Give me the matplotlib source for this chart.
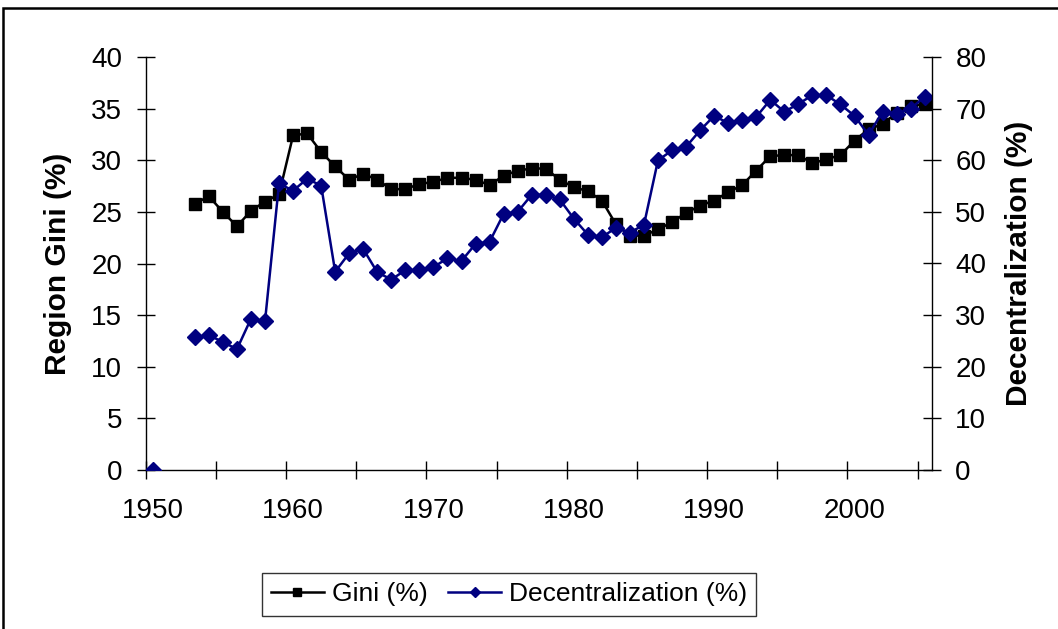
import matplotlib.pyplot as plt
from matplotlib.patches import Rectangle
import numpy as np

plt.rcParams['font.family'] = ['Liberation Sans', 'DejaVu Sans']

years = np.arange(1950, 2006)

# Gini (%) by year, starts 1953
gini = [np.nan, np.nan, np.nan,
        25.8, 26.5, 25.0, 23.6, 25.1, 26.0, 26.7,
        32.4, 32.6, 30.8, 29.4, 28.1, 28.7, 28.1, 27.2, 27.2, 27.7,
        27.9, 28.3, 28.3, 28.1, 27.6, 28.5, 29.0, 29.2, 29.2, 28.1,
        27.4, 27.0, 26.1, 23.8, 22.7, 22.7, 23.3, 24.0, 24.9, 25.6,
        26.1, 26.9, 27.6, 29.0, 30.4, 30.5, 30.5, 29.7, 30.1, 30.5,
        31.9, 33.0, 33.5, 34.6, 35.3, 35.4]

# Decentralization (%) by year, 1950 then 1953 onwards
decent = [0.0, np.nan, np.nan,
          25.7, 26.1, 24.8, 23.4, 29.3, 28.8, 55.5,
          54.1, 56.4, 55.1, 38.4, 42.0, 42.8, 38.3, 36.9, 38.7, 38.7,
          39.3, 41.0, 40.5, 43.8, 44.2, 49.6, 50.0, 53.3, 53.3, 52.4,
          48.7, 45.6, 45.1, 46.9, 46.0, 47.5, 60.0, 61.9, 62.6, 65.8,
          68.6, 67.2, 67.7, 68.4, 71.7, 69.4, 70.9, 72.6, 72.6, 70.8,
          68.6, 64.9, 69.4, 69.0, 70.0, 72.3]

label_years = [1950, 1960, 1970, 1980, 1990, 2000]

W, H = 1058, 629
fig = plt.figure(figsize=(W / 100, H / 100), dpi=100)
ax = fig.add_axes([145.7 / W, 1 - 470 / H, 786 / W, 413 / H])
ax2 = ax.twinx()

l1, = ax.plot(years, gini, color='black', lw=1.8, marker='s', ms=8.5,
              label='Gini (%)')
l2, = ax2.plot(years, decent, color='#000080', lw=1.8, marker='D', ms=8.5,
               label='Decentralization (%)')

ax.set_xlim(1949.5, 2005.5)
ax.set_ylim(0, 40)
ax2.set_ylim(0, 80)
ax.set_yticks(np.arange(0, 41, 5))
ax2.set_yticks(np.arange(0, 81, 10))

ax.set_xticks(np.arange(1949.5, 2005, 5))
ax.set_xticklabels([])
ax.set_xticks(label_years, minor=True)
ax.set_xticklabels([str(y) for y in label_years], minor=True)
ax.tick_params(axis='x', which='minor', length=0, pad=20, labelsize=20)
ax.tick_params(axis='x', which='major', direction='inout', length=13, width=1)
ax.tick_params(axis='y', direction='inout', length=13, width=1, pad=10.5,
               labelsize=20)
ax2.tick_params(axis='y', direction='inout', length=13, width=1, pad=10.5,
                labelsize=20)

for a in (ax, ax2):
    a.spines['top'].set_visible(False)
    for s in a.spines.values():
        s.set_linewidth(1.0)
ax.spines['right'].set_visible(False)
ax2.spines['left'].set_visible(False)
ax2.spines['bottom'].set_visible(False)

ax.set_ylabel('Region Gini (%)', fontsize=21.5, fontweight='bold')
ax2.set_ylabel('Decentralization (%)', fontsize=21.5, fontweight='bold')
ax.yaxis.set_label_coords(-0.094, 0.5)
ax2.yaxis.set_label_coords(1.093, 0.5)

leg = fig.legend([l1, l2], ['Gini (%)', 'Decentralization (%)'],
                 loc='center', bbox_to_anchor=(509 / W, 1 - 594.5 / H),
                 ncol=2, fontsize=19, frameon=True, fancybox=False,
                 markerscale=0.6, handlelength=2.0, handletextpad=0.3,
                 columnspacing=0.8, borderpad=0.35, borderaxespad=0)
leg.get_frame().set_edgecolor('black')
leg.get_frame().set_linewidth(1.0)

fig.patches.append(Rectangle((3 / W, -0.1), 1.2, 1.1 - 8 / H,
                             transform=fig.transFigure, fill=False,
                             lw=1.8, edgecolor='black'))

fig.savefig('out.png', dpi=100)
